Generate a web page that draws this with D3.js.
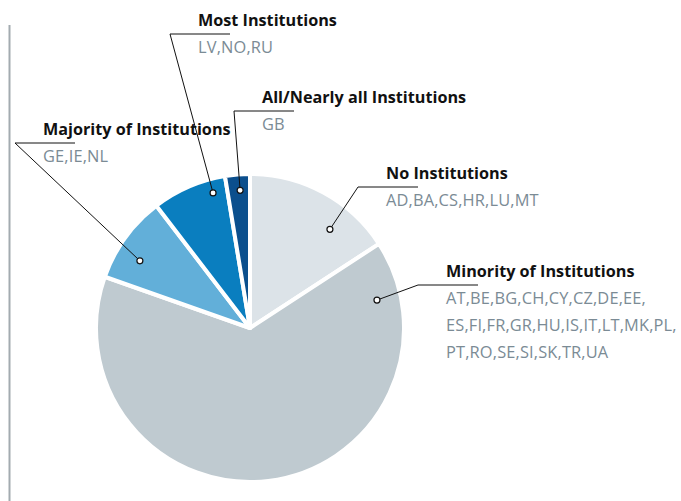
<!DOCTYPE html>
<html>
<head>
<meta charset="utf-8">
<script src="https://cdn.jsdelivr.net/npm/d3@7"></script>
<style>
  html, body { margin: 0; padding: 0; background: #fff; }
  svg { display: block; }
  text { font-variant-ligatures: none; font-family: "Open Sans", Lato, sans-serif; }
  .title { font-weight: 700; font-size: 16.2px; fill: #111; }
  .members { font-size: 16.4px; letter-spacing: 0.15px; fill: #7b8b95; }
</style>
</head>
<body>
<svg id="chart" width="681" height="501"></svg>
<script>
// Share of institutions per country grouping (percent of countries)
const categories = [
  "No Institutions",
  "Minority of Institutions",
  "Majority of Institutions",
  "Most Institutions",
  "All/Nearly all Institutions"
];
const values = [15.8, 64.6, 9.2, 7.8, 2.6];
// Country codes listed under each group, one array per text line
const members = [
  ["AD,BA,CS,HR,LU,MT"],
  ["AT,BE,BG,CH,CY,CZ,DE,EE,", "ES,FI,FR,GR,HU,IS,IT,LT,MK,PL,", "PT,RO,SE,SI,SK,TR,UA"],
  ["GE,IE,NL"],
  ["LV,NO,RU"],
  ["GB"]
];
const colors = ["#dce3e8", "#bfcad0", "#62afd9", "#0a7ebf", "#0b4f8d"];

// Callout placement: text anchor, plus where the leader's dot sits in the slice
const callouts = [
  { x: 386, y: 179, dotAngle: 39,    dotR: 127 },
  { x: 446, y: 277, dotAngle: 77.6,  dotR: 130 },
  { x: 43,  y: 135, dotAngle: 301.4, dotR: 129 },
  { x: 198, y: 26,  dotAngle: 344.7, dotR: 140 },
  { x: 262, y: 103, dotAngle: 355.9, dotR: 138 }
];

const svg = d3.select("#chart");
const cx = 250, cy = 328, radius = 154;
const lineGap = 27;

// left rule
svg.append("line")
  .attr("x1", 9.5).attr("x2", 9.5)
  .attr("y1", 25).attr("y2", 501)
  .attr("stroke", "#a3abb0").attr("stroke-width", 2);

const pie = d3.pie().sort(null).value(d => d)
  .startAngle(0).endAngle(2 * Math.PI);
const arc = d3.arc().innerRadius(0).outerRadius(radius);

const g = svg.append("g").attr("transform", `translate(${cx},${cy})`);
g.selectAll("path")
  .data(pie(values))
  .join("path")
  .attr("d", arc)
  .attr("fill", (d, i) => colors[i])
  .attr("stroke", "#fff")
  .attr("stroke-width", 4)
  .attr("stroke-linejoin", "round");

// callouts
const deg = Math.PI / 180;
categories.forEach((name, i) => {
  const c = callouts[i];
  const a = c.dotAngle * deg;
  const dx = cx + c.dotR * Math.sin(a);
  const dy = cy - c.dotR * Math.cos(a);
  const ly = c.y + 8;
  const elbowX = c.x - 28;
  const endX = c.x + 32;

  svg.append("polyline")
    .attr("points", `${dx},${dy} ${elbowX},${ly} ${endX},${ly}`)
    .attr("fill", "none")
    .attr("stroke", "#111")
    .attr("stroke-width", 1);

  svg.append("circle")
    .attr("cx", dx).attr("cy", dy).attr("r", 3)
    .attr("fill", "#fff").attr("stroke", "#111").attr("stroke-width", 1.2);

  svg.append("text")
    .attr("class", "title")
    .attr("x", c.x).attr("y", c.y)
    .text(name);

  members[i].forEach((line, k) => {
    svg.append("text")
      .attr("class", "members")
      .attr("x", c.x).attr("y", c.y + lineGap * (k + 1))
      .text(line);
  });
});
</script>
</body>
</html>
